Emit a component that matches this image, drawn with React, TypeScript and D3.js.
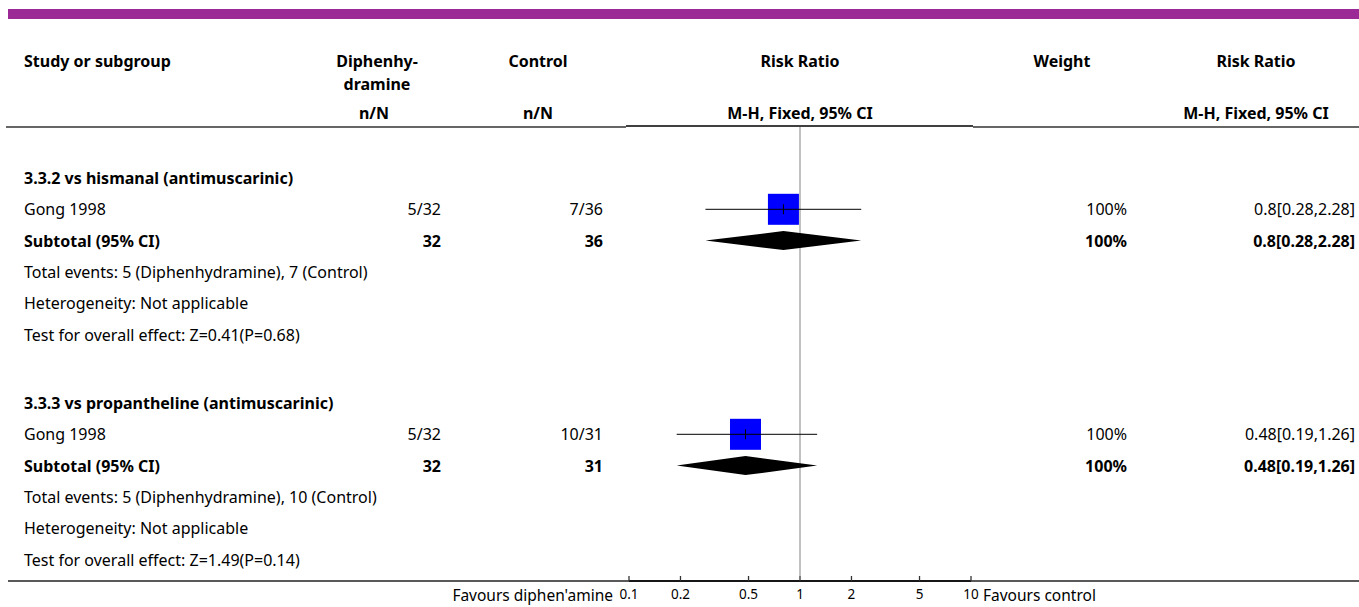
import React from "react";
import * as d3 from "d3";

// ---- data ----
const subgroups = ["3.3.2 vs hismanal (antimuscarinic)", "3.3.3 vs propantheline (antimuscarinic)"];
const studies = ["Gong 1998", "Gong 1998"];
const expEvents = [5, 5];
const expTotal = [32, 32];
const ctlEvents = [7, 10];
const ctlTotal = [36, 31];
const rr = [0.8, 0.48];
const ciLow = [0.28, 0.19];
const ciHigh = [2.28, 1.26];
const weights = ["100%", "100%"];
const heterogeneity = ["Not applicable", "Not applicable"];
const overallEffect = ["Z=0.41(P=0.68)", "Z=1.49(P=0.14)"];
const tickValues = [0.1, 0.2, 0.5, 1, 2, 5, 10];
const tickLabels = ["0.1", "0.2", "0.5", "1", "2", "5", "10"];

const W = 1359;
const H = 607;
const FONT = "'Noto Sans', 'Open Sans', sans-serif";
const FS = 16;

export default function App() {
  const x = d3.scaleLog().domain([0.1, 10]).range([629, 971]);
  const rowStep = 31.3;
  const groupTop = [178, 403];
  const axisY = 581;
  const colStudy = 24;
  const colExp = 441;
  const colCtl = 603;
  const colW = 1127;
  const colRR = 1355;

  const fmt = (i: number) => `${rr[i]}[${ciLow[i]},${ciHigh[i]}]`;

  const groups = subgroups.map((title, i) => {
    const y0 = groupTop[i];
    const y = (k: number) => y0 + k * rowStep;
    const cx = x(rr[i]);
    const sq = 31;
    const diamond = d3.line()([
      [x(ciLow[i]), y(2)],
      [cx, y(2) - 9.5],
      [x(ciHigh[i]), y(2)],
      [cx, y(2) + 9.5],
    ]) + "Z";
    return (
      <g key={i}>
        <text x={colStudy} y={y(0)} fontWeight="bold" dominantBaseline="central">{title}</text>
        <text x={colStudy} y={y(1)} dominantBaseline="central">{studies[i]}</text>
        <text x={colExp} y={y(1)} textAnchor="end" dominantBaseline="central">{`${expEvents[i]}/${expTotal[i]}`}</text>
        <text x={colCtl} y={y(1)} textAnchor="end" dominantBaseline="central">{`${ctlEvents[i]}/${ctlTotal[i]}`}</text>
        <rect x={cx - sq / 2} y={y(1) - sq / 2} width={sq} height={sq} fill="#0000ff" />
        <line x1={cx} x2={cx} y1={y(1) - 5} y2={y(1) + 5} stroke="#000" strokeWidth={1} />
        <line x1={x(ciLow[i])} x2={x(ciHigh[i])} y1={y(1)} y2={y(1)} stroke="#000" strokeWidth={1} />
        <text x={colW} y={y(1)} textAnchor="end" dominantBaseline="central">{weights[i]}</text>
        <text x={colRR} y={y(1)} textAnchor="end" dominantBaseline="central">{fmt(i)}</text>

        <text x={colStudy} y={y(2)} fontWeight="bold" dominantBaseline="central">Subtotal (95% CI)</text>
        <text x={colExp} y={y(2)} fontWeight="bold" textAnchor="end" dominantBaseline="central">{expTotal[i]}</text>
        <text x={colCtl} y={y(2)} fontWeight="bold" textAnchor="end" dominantBaseline="central">{ctlTotal[i]}</text>
        <path d={diamond} fill="#000" />
        <text x={colW} y={y(2)} fontWeight="bold" textAnchor="end" dominantBaseline="central">{weights[i]}</text>
        <text x={colRR} y={y(2)} fontWeight="bold" textAnchor="end" dominantBaseline="central">{fmt(i)}</text>

        <text x={colStudy} y={y(3)} dominantBaseline="central">{`Total events: ${expEvents[i]} (Diphenhydramine), ${ctlEvents[i]} (Control)`}</text>
        <text x={colStudy} y={y(4)} dominantBaseline="central">{`Heterogeneity: ${heterogeneity[i]}`}</text>
        <text x={colStudy} y={y(5)} dominantBaseline="central">{`Test for overall effect: ${overallEffect[i]}`}</text>
      </g>
    );
  });

  return (
    <svg width={W} height={H} style={{ position: "absolute", left: 0, top: 0 }} fontFamily={FONT} fontSize={FS} fill="#000">
      <rect x={8} y={9} width={W - 8} height={10} fill="#9c2a96" />
      {/* headers */}
      <g fontWeight="bold" dominantBaseline="central">
        <text x={colStudy} y={61}>Study or subgroup</text>
        <text x={377} y={61} textAnchor="middle">Diphenhy-</text>
        <text x={377} y={84} textAnchor="middle">dramine</text>
        <text x={374} y={113} textAnchor="middle">n/N</text>
        <text x={538} y={61} textAnchor="middle">Control</text>
        <text x={538} y={113} textAnchor="middle">n/N</text>
        <text x={800} y={61} textAnchor="middle">Risk Ratio</text>
        <text x={800} y={113} textAnchor="middle">M-H, Fixed, 95% CI</text>
        <text x={1062} y={61} textAnchor="middle">Weight</text>
        <text x={1256} y={61} textAnchor="middle">Risk Ratio</text>
        <text x={1256} y={113} textAnchor="middle">M-H, Fixed, 95% CI</text>
      </g>
      <line x1={6} x2={626} y1={127} y2={127} stroke="#333" strokeWidth={1.3} />
      <line x1={626} x2={973} y1={126} y2={126} stroke="#000" strokeWidth={1.3} />
      <line x1={973} x2={W} y1={127} y2={127} stroke="#333" strokeWidth={1.3} />
      {/* null line */}
      <line x1={x(1)} x2={x(1)} y1={127} y2={axisY - 5} stroke="#a0a0a0" strokeWidth={1.3} />
      {groups}
      {/* axis */}
      <line x1={8} x2={W} y1={axisY} y2={axisY} stroke="#222" strokeWidth={1.5} />
      <line x1={x(0.1)} x2={x(10)} y1={axisY} y2={axisY} stroke="#000" strokeWidth={1.5} />
      {tickValues.map((t, i) => (
        <g key={t}>
          <line x1={x(t)} x2={x(t)} y1={axisY - 5} y2={axisY} stroke="#333" strokeWidth={1.3} />
          <text x={x(t)} y={594} textAnchor="middle" fontSize={13.5} dominantBaseline="central">{tickLabels[i]}</text>
        </g>
      ))}
      <text x={613} y={595} textAnchor="end" fontSize={15.5} dominantBaseline="central">Favours diphen'amine</text>
      <text x={983} y={595} fontSize={15.5} dominantBaseline="central">Favours control</text>
    </svg>
  );
}
